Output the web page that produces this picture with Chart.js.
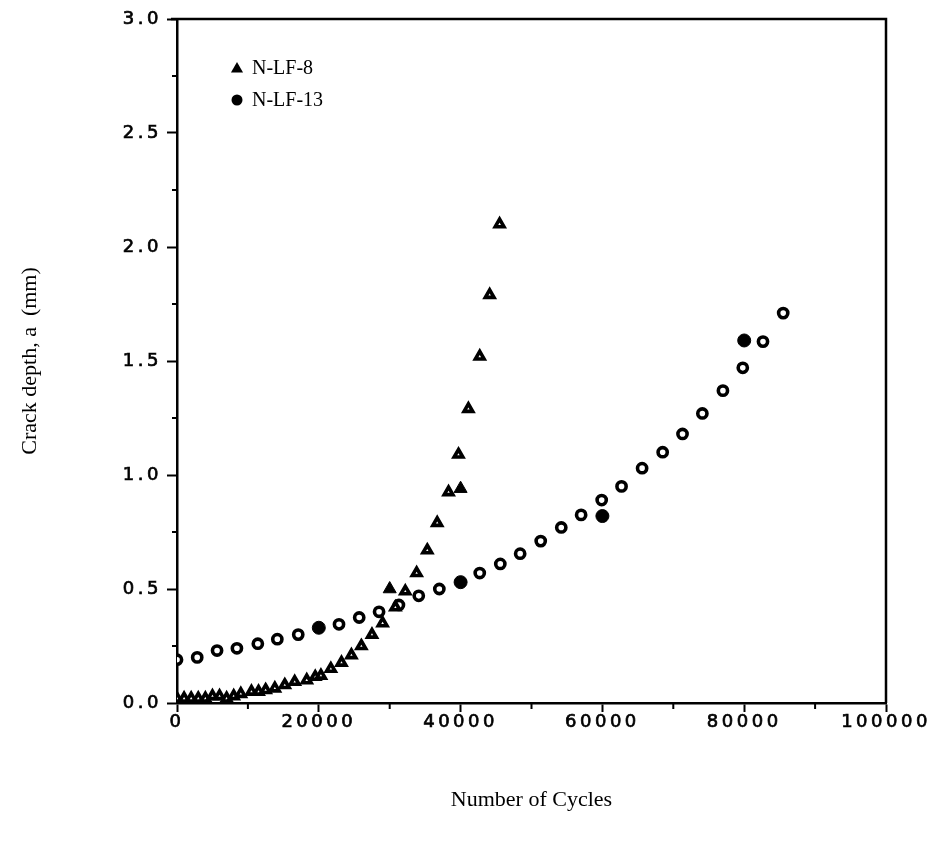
<!DOCTYPE html>
<html>
<head>
<meta charset="utf-8">
<script src="https://cdn.jsdelivr.net/npm/chart.js@4.4.1/dist/chart.umd.min.js"></script>
<style>
  html, body { margin: 0; padding: 0; background: #ffffff; }
  #wrap { width: 938px; height: 851px; }
</style>
</head>
<body>
<div id="wrap"><canvas id="c" width="938" height="851"></canvas></div>
<script>
// ---- data ----
const seriesNames = ['N-LF-8', 'N-LF-13'];

// N-LF-8 : open triangles
const lf8OpenX = [0, 1000, 2000, 3000, 4000, 5000, 6000, 7000, 8000, 9000, 10500, 11500, 12500, 13800, 15200, 16600, 18300, 19500, 20300, 21700, 23200, 24600, 26000, 27500, 29000, 30800, 32200, 33800, 35300, 36700, 38300, 39700, 41100, 42700, 44100, 45500];
const lf8OpenY = [0.02, 0.02, 0.02, 0.02, 0.02, 0.03, 0.03, 0.02, 0.03, 0.04, 0.05, 0.05, 0.057, 0.064, 0.079, 0.093, 0.10, 0.115, 0.12, 0.15, 0.177, 0.21, 0.25, 0.30, 0.35, 0.42, 0.49, 0.57, 0.67, 0.79, 0.925, 1.09, 1.29, 1.52, 1.79, 2.10];
// N-LF-8 : filled triangles
const lf8FillX = [30000, 40000];
const lf8FillY = [0.50, 0.94];

// N-LF-13 : open circles
const lf13OpenX = [0, 2850, 5650, 8450, 11400, 14150, 17100, 22850, 25700, 28500, 31300, 34100, 37000, 42700, 45600, 48400, 51300, 54200, 57000, 59900, 62700, 65600, 68500, 71300, 74100, 77000, 79800, 82650, 85500];
const lf13OpenY = [0.19, 0.20, 0.23, 0.24, 0.26, 0.28, 0.30, 0.345, 0.375, 0.40, 0.43, 0.47, 0.50, 0.57, 0.61, 0.655, 0.71, 0.77, 0.825, 0.89, 0.95, 1.03, 1.10, 1.18, 1.27, 1.37, 1.47, 1.585, 1.71];
// N-LF-13 : filled circles
const lf13FillX = [20000, 40000, 60000, 80000];
const lf13FillY = [0.33, 0.53, 0.82, 1.59];

// axis ticks
const xMin = 0, xMax = 100000, xMajorStep = 20000, xMinorStep = 10000;
const yMin = 0, yMax = 3.0, yMajorStep = 0.5, yMinorStep = 0.25;

const xTitle = 'Number of Cycles';
const yTitle = 'Crack depth, a  (mm)';

function pts(xs, ys) { return xs.map((x, i) => ({ x: x, y: ys[i] })); }

// wide tracking for the tick labels only (labels are drawn after datasets, z = 1)
const trackingPlugin = {
  id: 'tracking',
  afterDatasetsDraw(chart) { chart.ctx.letterSpacing = '3.5px'; },
  afterDraw(chart) { chart.ctx.letterSpacing = '0px'; }
};

// minor ticks + box border + legend drawn through the chart's scales
const framePlugin = {
  id: 'frame',
  afterDraw(chart) {
    const ctx = chart.ctx;
    const a = chart.chartArea;
    const xs = chart.scales.x, ys = chart.scales.y;
    ctx.save();
    ctx.letterSpacing = '0px';
    ctx.strokeStyle = '#000';
    // top and right border of the box
    ctx.lineWidth = 2.5;
    ctx.beginPath();
    ctx.moveTo(a.left - 6, a.top);
    ctx.lineTo(a.right, a.top);
    ctx.lineTo(a.right, a.bottom);
    ctx.stroke();
    // minor ticks
    ctx.lineWidth = 2;
    ctx.beginPath();
    for (let v = xMin + xMinorStep; v < xMax; v += xMajorStep) {
      const px = xs.getPixelForValue(v);
      ctx.moveTo(px, a.bottom);
      ctx.lineTo(px, a.bottom + 6);
    }
    for (let v = yMin + yMinorStep; v < yMax; v += yMajorStep) {
      const py = ys.getPixelForValue(v);
      ctx.moveTo(a.left, py);
      ctx.lineTo(a.left - 5, py);
    }
    ctx.stroke();
    // legend
    const lx = a.left + 60, ly = a.top + 49, gap = 32;
    const styles = [
      { pointStyle: 'triangle', radius: 7, rotation: 0 },
      { pointStyle: 'circle', radius: 5.5, rotation: 0 }
    ];
    ctx.font = '20px "Liberation Serif", "Times New Roman", serif';
    ctx.textBaseline = 'middle';
    ctx.textAlign = 'left';
    seriesNames.forEach((name, i) => {
      const y = ly + i * gap;
      ctx.fillStyle = '#000';
      ctx.strokeStyle = '#000';
      ctx.lineWidth = 0.5;
      Chart.helpers.drawPoint(ctx, styles[i], lx, y + (i === 0 ? 1 : 0));
      ctx.fillStyle = '#000';
      ctx.fillText(name, lx + 15, y + 1);
    });
    ctx.restore();
  }
};

const tickFont = { family: '"DejaVu Sans", Verdana, sans-serif', size: 18 };
const titleFont = { family: '"Liberation Serif", "Times New Roman", serif', size: 22 };

new Chart(document.getElementById('c'), {
  type: 'scatter',
  data: {
    datasets: [
      {
        label: seriesNames[0] + ' (open)',
        data: pts(lf8OpenX, lf8OpenY),
        pointStyle: 'triangle',
        pointRadius: 5,
        pointBorderWidth: 3.6,
        pointBorderColor: '#000',
        pointBackgroundColor: '#fff'
      },
      {
        label: seriesNames[0],
        data: pts(lf8FillX, lf8FillY),
        pointStyle: 'triangle',
        pointRadius: 7.5,
        pointBorderWidth: 1,
        pointBorderColor: '#000',
        pointBackgroundColor: '#000'
      },
      {
        label: seriesNames[1] + ' (open)',
        data: pts(lf13OpenX, lf13OpenY),
        pointStyle: 'circle',
        pointRadius: 4.6,
        pointBorderWidth: 3.6,
        pointBorderColor: '#000',
        pointBackgroundColor: '#fff'
      },
      {
        label: seriesNames[1],
        data: pts(lf13FillX, lf13FillY),
        pointStyle: 'circle',
        pointRadius: 6.5,
        pointBorderWidth: 1,
        pointBorderColor: '#000',
        pointBackgroundColor: '#000'
      }
    ]
  },
  options: {
    responsive: false,
    animation: false,
    devicePixelRatio: 1,
    layout: { padding: { top: 19, right: 52, bottom: 0, left: 0 } },
    plugins: {
      legend: { display: false },
      tooltip: { enabled: false }
    },
    scales: {
      x: {
        type: 'linear',
        min: xMin, max: xMax,
        afterFit(s) { s.height = 148; },
        border: { display: true, color: '#000', width: 2.5 },
        grid: { drawOnChartArea: false, tickLength: 9, tickWidth: 2, tickColor: '#000' },
        ticks: {
          z: 1,
          stepSize: xMajorStep,
          color: '#000',
          textStrokeColor: '#000',
          textStrokeWidth: 0.7,
          font: tickFont,
          padding: 0,
          maxRotation: 0,
          callback: (v) => String(v)
        },
        title: {
          display: true,
          text: xTitle,
          color: '#000',
          font: titleFont,
          padding: { top: 0, bottom: 38 }
        }
      },
      y: {
        type: 'linear',
        min: yMin, max: yMax,
        afterFit(s) { s.width = 177; },
        border: { display: true, color: '#000', width: 2.5 },
        grid: { drawOnChartArea: false, tickLength: 10, tickWidth: 2, tickColor: '#000' },
        ticks: {
          z: 1,
          stepSize: yMajorStep,
          color: '#000',
          textStrokeColor: '#000',
          textStrokeWidth: 0.7,
          font: tickFont,
          padding: 5,
          callback: (v) => Number(v).toFixed(1)
        },
        title: {
          display: true,
          text: yTitle,
          color: '#000',
          font: titleFont,
          padding: { top: 17, bottom: 0 }
        }
      }
    }
  },
  plugins: [trackingPlugin, framePlugin]
});
</script>
</body>
</html>
